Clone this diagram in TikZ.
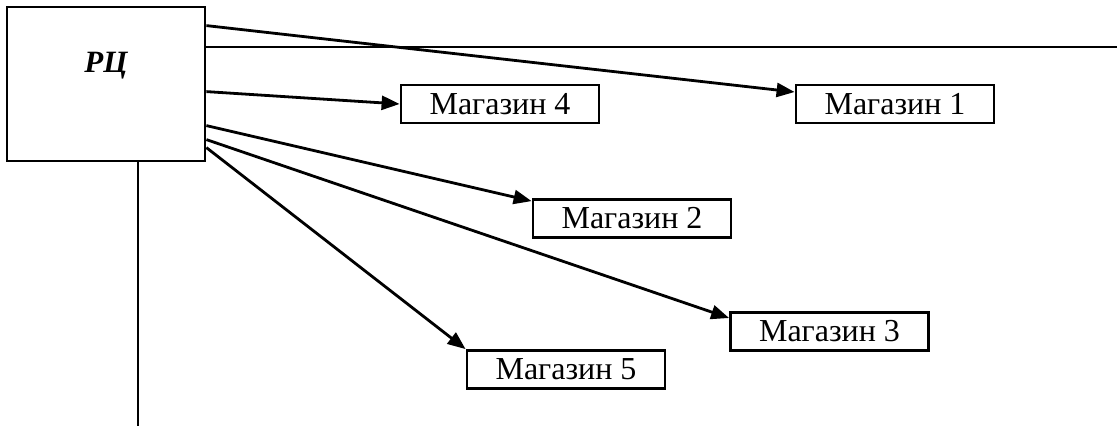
\documentclass[tikz,border=0pt]{standalone}
\usepackage{fontspec}
\setmainfont{Liberation Serif}
\usetikzlibrary{arrows.meta}
\tikzset{
  conn/.style={line width=2.8pt},
  arr/.style={conn, -{Triangle[length=18pt,width=14pt]}},
  shop/.style={draw, line width=2.8pt, minimum width=198pt, minimum height=38pt,
    inner sep=0pt, font=\fontsize{32}{34}\selectfont},
  hub/.style={draw, line width=2.8pt, minimum width=198pt, minimum height=154pt, inner sep=0pt}
}
\begin{document}
\begin{tikzpicture}[x=1pt,y=-1pt]
  \useasboundingbox (0,0) rectangle (1117,426);
  % distribution centre
  \node[hub] (rc) at (106,84) {};
  \node[font=\fontsize{31}{33}\selectfont\bfseries\itshape] (rclabel) at (106,66) {РЦ};
  % shops
  \node[shop] (m1) at (895,104) {Магазин 1};
  \node[shop] (m4) at (500,104) {Магазин 4};
  \node[shop] (m2) at (632,218.5) {Магазин 2};
  \node[shop] (m3) at (829.5,331.5) {Магазин 3};
  \node[shop] (m5) at (566,369.5) {Магазин 5};
  % free ends of the two plain lines
  \coordinate (hend) at (1117,47);
  \coordinate (vend) at (138,426);
  % delivery routes
  \draw[arr] ([yshift=-20pt]rc.north east) -- ([yshift=12pt]m1.west);
  \draw[arr] ([yshift=-86pt]rc.north east) -- (m4.west);
  \draw[arr] ([yshift=-120pt]rc.north east) -- ([yshift=-3pt]m2.north west);
  \draw[arr] ([yshift=-134pt]rc.north east) -- ([yshift=13.5pt]m3.west);
  \draw[arr] ([yshift=-142pt]rc.north east) -- (m5.north west);
  % plain lines
  \draw[conn] (rc.east |- hend) -- (hend);
  \draw[conn] (rc.south -| vend) -- (vend);
\end{tikzpicture}
\end{document}
